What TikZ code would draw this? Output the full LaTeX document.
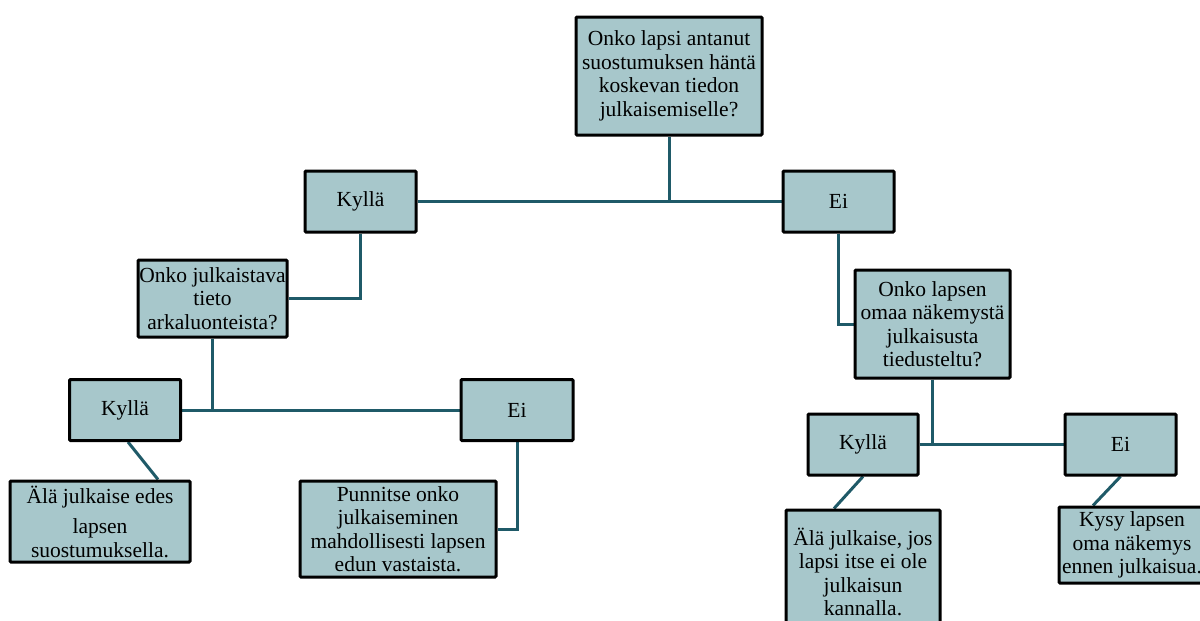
\documentclass[tikz,border=0pt]{standalone}
\usepackage{fontspec}
\setmainfont{Liberation Serif}
\newfontfamily\boxfont{Liberation Serif}
\usepackage{tikz}
\usetikzlibrary{calc,backgrounds}
\definecolor{boxfill}{RGB}{167,199,203}
\definecolor{linkcol}{RGB}{31,90,104}
\tikzset{
    box/.style={draw=black, line width=3pt, fill=boxfill, rounded corners=1pt,
        align=center, inner sep=1pt, font=\boxfont\fontsize{21.5}{23.5}\selectfont},
    link/.style={draw=linkcol, line width=3pt},
}
\begin{document}
\begin{tikzpicture}[x=1pt,y=-1pt]
\useasboundingbox (0,0) rectangle (1200,621);
\clip (0,0) rectangle (1200,621);
% kysymykset ja vastaukset
\node[box, minimum width=186, minimum height=118] (q1) at (669,76) {Onko lapsi antanut\\suostumuksen häntä\\koskevan tiedon\\julkaisemiselle?};
\node[box, minimum width=111, minimum height=61] (yes1) at (360.5,201.5) {Kyllä};
\node[box, minimum width=111, minimum height=61] (no1) at (838.5,201.5) {Ei};
\node[box, minimum width=149, minimum height=77] (q2) at (212.5,298.5) {Onko julkaistava\\tieto\\arkaluonteista?};
\node[box, minimum width=111, minimum height=61] (yes2) at (125,410) {Kyllä};
\node[box, minimum width=112, minimum height=61] (no2) at (517,410) {Ei};
\node[box, minimum width=180, minimum height=81] (a1) at (100,521.5) {Älä julkaise edes\\[7pt]lapsen\\suostumuksella.};
\node[box, minimum width=196, minimum height=96] (a2) at (398,529) {Punnitse onko\\julkaiseminen\\mahdollisesti lapsen\\edun vastaista.};
\node[box, minimum width=155, minimum height=108] (q3) at (932.5,324) {Onko lapsen\\omaa näkemystä\\julkaisusta\\tiedusteltu?};
\node[box, minimum width=110, minimum height=61] (yes3) at (863,444.5) {Kyllä};
\node[box, minimum width=111, minimum height=61] (no3) at (1120.5,444.5) {Ei};
\node[box, minimum width=154, minimum height=124] (a3) at (863,572) {Älä julkaise, jos\\lapsi itse ei ole\\julkaisun\\kannalla.};
\node[box, minimum width=146, minimum height=76] (a4) at (1132,545) {Kysy lapsen\\oma näkemys\\ennen julkaisua.};
% yhteydet
\begin{scope}[on background layer]
\draw[link] (q1.south) -- (q1.south |- yes1.east);
\draw[link] (yes1.east) -- (no1.west);
\draw[link] (yes1.south) |- (q2.east);
\draw[link] (no1.south) |- (q3.west);
\draw[link] (q2.south) -- (q2.south |- yes2.east);
\draw[link] (yes2.east) -- (no2.west);
\draw[link] (no2.south) |- (a2.east);
\draw[link] ([xshift=3pt]yes2.south) -- ([xshift=58pt]a1.north);
\draw[link] (q3.south) -- (q3.south |- yes3.east);
\draw[link] (yes3.east) -- (no3.west);
\draw[link] (yes3.south) -- ([xshift=-29pt]a3.north);
\draw[link] (no3.south) -- ([xshift=-39pt]a4.north);
\end{scope}
\end{tikzpicture}
\end{document}
